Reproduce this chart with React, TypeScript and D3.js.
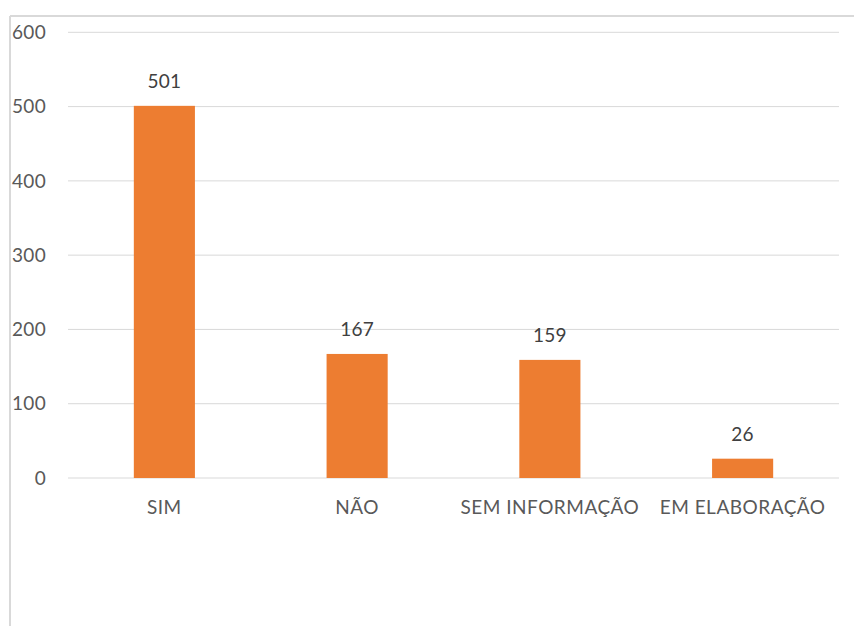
import React from "react";
import * as d3 from "d3";

const categories = ["SIM", "NÃO", "SEM INFORMAÇÃO", "EM ELABORAÇÃO"];
const values = [501, 167, 159, 26];
const yTicks = [0, 100, 200, 300, 400, 500, 600];

const W = 854;
const H = 626;

export default function App() {
  const left = 68;
  const right = 839;
  const y = d3.scaleLinear().domain([0, 600]).range([478, 32.3]);
  const x = d3.scaleBand<string>().domain(categories).range([left, right]).paddingInner(0.683).paddingOuter(0.3415);
  const font = "Lato, 'Liberation Sans', sans-serif";
  return (
    <svg width={W} height={H} style={{ position: "absolute", left: 0, top: 0 }}>
      <rect x={0} y={0} width={W} height={H} fill="#fff" />
      <line x1={10} y1={16} x2={W} y2={16} stroke="#d9d9d9" strokeWidth={2} />
      <line x1={10} y1={16} x2={10} y2={H} stroke="#d9d9d9" strokeWidth={2} />
      {yTicks.map((t) => (
        <g key={t}>
          <line x1={left} x2={right} y1={y(t)} y2={y(t)} stroke="#d9d9d9" strokeWidth={1} />
          <text x={46} y={y(t) + 6.7} textAnchor="end" fontFamily={font} fontSize={19} letterSpacing={0.3} fill="#595959">
            {t}
          </text>
        </g>
      ))}
      {categories.map((c, i) => (
        <g key={c}>
          <rect x={x(c)} y={y(values[i])} width={x.bandwidth()} height={y(0) - y(values[i])} fill="#ed7d31" />
          <text x={(x(c) as number) + x.bandwidth() / 2} y={y(values[i]) - 18} textAnchor="middle" fontFamily={font} fontSize={19} letterSpacing={0.3} fill="#404040">
            {values[i]}
          </text>
          <text x={(x(c) as number) + x.bandwidth() / 2} y={513.5} textAnchor="middle" fontFamily={font} fontSize={19} letterSpacing={0.5} fill="#595959">
            {c}
          </text>
        </g>
      ))}
    </svg>
  );
}
